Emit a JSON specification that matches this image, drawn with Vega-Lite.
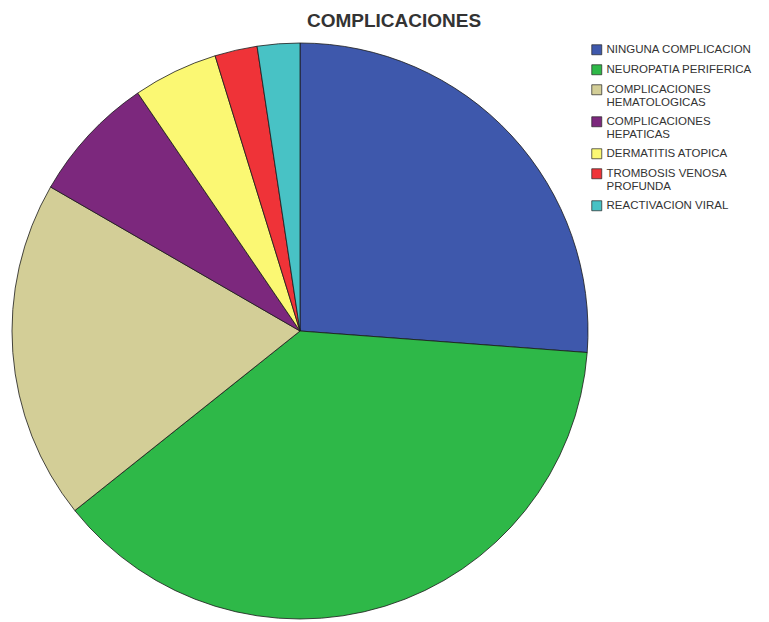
{
  "$schema": "https://vega.github.io/schema/vega-lite/v6.json",
  "width": 576,
  "height": 576,
  "autosize": "none",
  "padding": {"left": 12, "top": 43, "right": 181, "bottom": 3},
  "background": "white",
  "title": {
    "text": "COMPLICACIONES",
    "font": "Liberation Sans",
    "fontSize": 19,
    "fontWeight": "bold",
    "color": "#333333",
    "anchor": "middle",
    "dx": 94,
    "offset": 10
  },
  "data": {
    "values": [
      {"complicacion": "NINGUNA COMPLICACION", "n": 11, "orden": 1},
      {"complicacion": "NEUROPATIA PERIFERICA", "n": 16, "orden": 2},
      {"complicacion": "COMPLICACIONES HEMATOLOGICAS", "n": 8, "orden": 3},
      {"complicacion": "COMPLICACIONES HEPATICAS", "n": 3, "orden": 4},
      {"complicacion": "DERMATITIS ATOPICA", "n": 2, "orden": 5},
      {"complicacion": "TROMBOSIS VENOSA PROFUNDA", "n": 1, "orden": 6},
      {"complicacion": "REACTIVACION VIRAL", "n": 1, "orden": 7}
    ]
  },
  "mark": {"type": "arc", "stroke": "#1a1a1a", "strokeWidth": 0.8, "outerRadius": 288},
  "encoding": {
    "theta": {"field": "n", "type": "quantitative", "stack": true},
    "order": {"field": "orden", "type": "quantitative"},
    "color": {
      "field": "complicacion",
      "type": "nominal",
      "scale": {
        "domain": ["NINGUNA COMPLICACION", "NEUROPATIA PERIFERICA", "COMPLICACIONES HEMATOLOGICAS", "COMPLICACIONES HEPATICAS", "DERMATITIS ATOPICA", "TROMBOSIS VENOSA PROFUNDA", "REACTIVACION VIRAL"],
        "range": ["#3E58AC", "#2EB848", "#D3CE97", "#7C287D", "#FBF873", "#EF3338", "#48C2C5"]
      },
      "legend": {
        "title": null,
        "orient": "none",
        "legendX": 579,
        "legendY": 1,
        "symbolType": "square",
        "symbolSize": 100,
        "symbolStrokeColor": "#222222",
        "symbolStrokeWidth": 0.7,
        "symbolOpacity": 1,
        "labelFont": "Liberation Sans",
        "labelFontSize": 11.5,
        "labelColor": "#333333",
        "labelOffset": 4,
        "labelLimit": 200,
        "rowPadding": 6,
        "labelExpr": "datum.label == 'COMPLICACIONES HEMATOLOGICAS' ? ['COMPLICACIONES', 'HEMATOLOGICAS'] : datum.label == 'COMPLICACIONES HEPATICAS' ? ['COMPLICACIONES', 'HEPATICAS'] : datum.label == 'TROMBOSIS VENOSA PROFUNDA' ? ['TROMBOSIS VENOSA', 'PROFUNDA'] : datum.label"
      }
    }
  }
}
